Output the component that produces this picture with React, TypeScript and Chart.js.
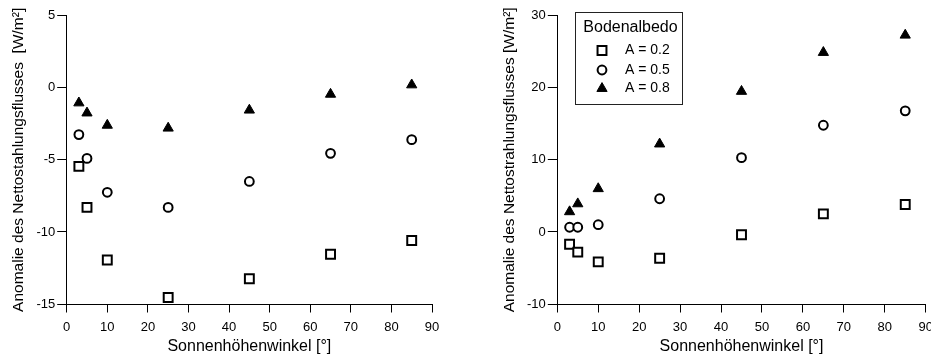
import React, { useEffect, useRef } from 'react';
import { Chart, registerables } from 'chart.js';
import { drawPoint } from 'chart.js/helpers';

Chart.register(...registerables);

const FONT = "'Liberation Sans', Arial, Helvetica, sans-serif";

// Sonnenhöhenwinkel [°]
const angles = [3, 5, 10, 25, 45, 65, 85];

// Left panel: Anomalie des Nettostrahlungsflusses [W/m²]
const leftA02 = [-5.45, -8.3, -11.95, -14.55, -13.25, -11.55, -10.6];
const leftA05 = [-3.25, -4.9, -7.25, -8.3, -6.5, -4.55, -3.6];
const leftA08 = [-1.05, -1.75, -2.6, -2.8, -1.55, -0.45, 0.2];

// Right panel
const rightA02 = [-1.7, -2.8, -4.15, -3.65, -0.4, 2.5, 3.8];
const rightA05 = [0.65, 0.65, 1.0, 4.6, 10.3, 14.8, 16.8];
const rightA08 = [2.8, 3.9, 6.0, 12.2, 19.5, 24.9, 27.3];

const seriesLabels = ['A = 0.2', 'A = 0.5', 'A = 0.8'];
const legendTitle = 'Bodenalbedo';
const xTitle = 'Sonnenhöhenwinkel [°]';
const leftYTitle = 'Anomalie des Nettostahlungsflusses  [W/m²]';
const rightYTitle = 'Anomalie des Nettostrahlungsflusses [W/m²]';

const styles = [
  { pointStyle: 'rect', pointRadius: 6.3, pointBorderWidth: 2, pointBackgroundColor: '#fff', pointBorderColor: '#000' },
  { pointStyle: 'circle', pointRadius: 4.4, pointBorderWidth: 2, pointBackgroundColor: '#fff', pointBorderColor: '#000' },
  { pointStyle: 'triangle', pointRadius: 5.9, pointBorderWidth: 1, pointBackgroundColor: '#000', pointBorderColor: '#000' },
];

function makeDatasets(series: number[][]) {
  return series.map((vals, i) => ({
    label: seriesLabels[i],
    data: vals.map((v, j) => ({ x: angles[j], y: v })),
    showLine: false,
    ...styles[i],
    pointHoverRadius: styles[i].pointRadius,
  }));
}

function makeScales(yMin: number, yMax: number, yStep: number, yTitle: string, yTitlePad: number, yWidth: number) {
  return {
    x: {
      type: 'linear',
      min: 0,
      max: 90,
      ticks: { stepSize: 10, color: '#000', font: { family: FONT, size: 13 }, padding: 7, maxRotation: 0, autoSkip: false },
      grid: { display: true, drawOnChartArea: false, drawTicks: true, tickLength: 8.5, tickColor: '#000', tickWidth: 1 },
      border: { display: true, color: '#000', width: 1 },
      title: { display: true, text: xTitle, color: '#000', font: { family: FONT, size: 16 }, padding: { top: 0, bottom: 1.9 } },
      afterFit: (s: any) => { s.height = 54; },
    },
    y: {
      type: 'linear',
      min: yMin,
      max: yMax,
      ticks: { stepSize: yStep, color: '#000', font: { family: FONT, size: 13 }, padding: 2 },
      grid: { display: true, drawOnChartArea: false, drawTicks: true, tickLength: 9.5, tickColor: '#000', tickWidth: 1 },
      border: { display: true, color: '#000', width: 1 },
      title: { display: true, text: yTitle, color: '#000', font: { family: FONT, size: 15.5 }, padding: { top: yTitlePad, bottom: 0 } },
      afterFit: (s: any) => { s.width = yWidth; },
    },
  };
}

const boxLegend = {
  id: 'boxLegend',
  afterDraw(chart: any) {
    const ctx = chart.ctx;
    ctx.save();
    ctx.strokeStyle = '#222';
    ctx.lineWidth = 1;
    ctx.strokeRect(105.5, 12.5, 107, 92);
    ctx.fillStyle = '#000';
    ctx.font = `16px ${FONT}`;
    ctx.textAlign = 'center';
    ctx.textBaseline = 'middle';
    ctx.fillText(legendTitle, 160.5, 28);
    const rows = [50.5, 70, 88.5];
    chart.data.datasets.forEach((ds: any, i: number) => {
      ctx.fillStyle = ds.pointBackgroundColor;
      ctx.strokeStyle = ds.pointBorderColor;
      ctx.lineWidth = ds.pointBorderWidth;
      drawPoint(ctx, { pointStyle: ds.pointStyle, radius: ds.pointRadius, borderWidth: ds.pointBorderWidth, rotation: 0 } as any, 132, rows[i]);
      ctx.fillStyle = '#000';
      ctx.font = `14px ${FONT}`;
      ctx.textAlign = 'left';
      ctx.fillText(ds.label, 155, rows[i]);
    });
    ctx.restore();
  },
};

function ScatterPanel(props: { series: number[][]; yMin: number; yMax: number; yStep: number; yTitle: string; yTitlePad: number; yWidth: number; width: number; padRight: number; legend: boolean }) {
  const ref = useRef<HTMLCanvasElement>(null);
  useEffect(() => {
    if (!ref.current) return;
    const chart = new Chart(ref.current, {
      type: 'scatter',
      data: { datasets: makeDatasets(props.series) as any },
      options: {
        animation: false,
        responsive: false,
        devicePixelRatio: 1,
        layout: { padding: { left: 0, top: 15.7, right: props.padRight, bottom: 0 } },
        plugins: { legend: { display: false }, tooltip: { enabled: false } },
        scales: makeScales(props.yMin, props.yMax, props.yStep, props.yTitle, props.yTitlePad, props.yWidth) as any,
      },
      plugins: props.legend ? [boxLegend as any] : [],
    });
    return () => chart.destroy();
  }, []);
  return <canvas ref={ref} width={props.width} height={358} style={{ width: props.width, height: 358, display: 'block' }} />;
}

export default function App() {
  return (
    <div style={{ position: 'absolute', left: 0, top: 0, width: 931, height: 358, overflow: 'hidden', background: '#fff' }}>
      <div style={{ position: 'absolute', left: 0, top: 0 }}>
        <ScatterPanel series={[leftA02, leftA05, leftA08]} yMin={-15} yMax={5} yStep={5} yTitle={leftYTitle} yTitlePad={9.7} yWidth={66.7} width={470} padRight={38} legend={false} />
      </div>
      <div style={{ position: 'absolute', left: 470, top: 0 }}>
        <ScatterPanel series={[rightA02, rightA05, rightA08]} yMin={-10} yMax={30} yStep={10} yTitle={rightYTitle} yTitlePad={30.2} yWidth={87.3} width={480} padRight={24.3} legend={true} />
      </div>
    </div>
  );
}
